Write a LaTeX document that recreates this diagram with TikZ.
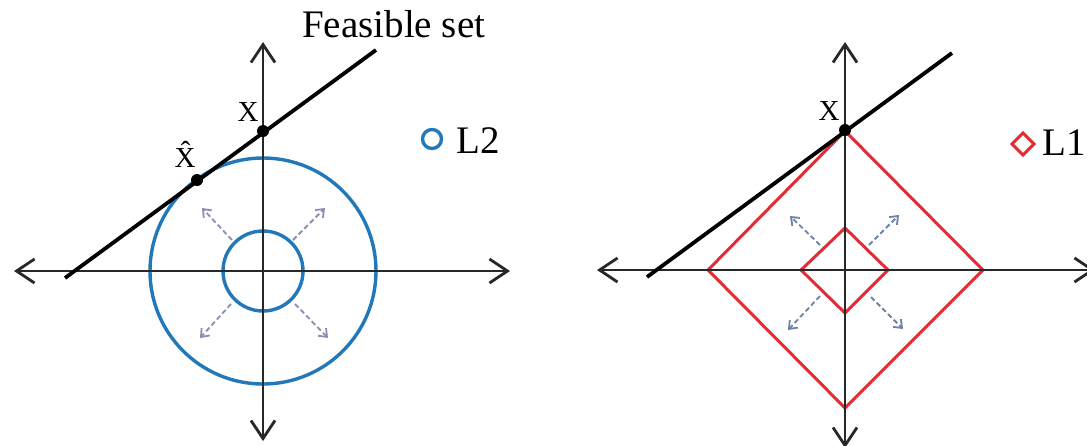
\documentclass[tikz,border=0pt]{standalone}
\usepackage{fontspec}
\setmainfont{Liberation Serif}
\usetikzlibrary{arrows.meta}
\definecolor{ltwo}{RGB}{35,120,185}
\definecolor{lone}{RGB}{225,45,55}
\definecolor{axisgray}{RGB}{40,40,40}
\definecolor{growL}{RGB}{140,140,180}
\definecolor{growR}{RGB}{110,130,165}
\tikzset{
  axisline/.style={line width=2.8pt, draw=axisgray, <->, >={Straight Barb[length=18pt,width=24pt,line width=2.8pt]}},
  feasline/.style={line width=3.8pt, draw=black},
  ringL/.style={circle, draw=ltwo, line width=3.4pt, inner sep=0pt},
  diaR/.style={draw=lone, line width=3pt, line join=miter},
  growarrow/.style={line width=1.8pt, dash pattern=on 5pt off 3pt, ->, >={Straight Barb[length=7pt,width=11pt,line width=1.8pt]}},
  dotpt/.style={circle, fill=black, inner sep=0pt, minimum size=12pt},
  lbl/.style={font=\fontsize{29}{31}\selectfont, anchor=base, inner sep=0pt},
  bigtxt/.style={font=\fontsize{39}{42}\selectfont, anchor=base west, inner sep=0pt}
}
\begin{document}
\begin{tikzpicture}[x=1pt,y=-1pt]
\useasboundingbox[fill=white] (0,0) rectangle (1087,445);
% ---------- left panel (L2) ----------
\coordinate (O1) at (263,271);
\coordinate (hL1) at (14,271);
\coordinate (hR1) at (510,271);
\coordinate (vT1) at (263,42);
\coordinate (vB1) at (263,441);
\node[ringL, minimum size=226pt] (big1) at (O1) {};
\node[ringL, minimum size=80pt] (small1) at (O1) {};
\draw[axisline] (hL1) -- (hR1);
\draw[axisline] (vB1) -- (vT1);
\coordinate (fA1) at (65,278);
\coordinate (fB1) at (376,50);
\draw[feasline] (fA1) -- (fB1);
\node[dotpt] (x1) at (263,131) {};
\node[dotpt] (xh1) at (197,180) {};
\node[lbl] (xlab1) at (248,121) {X};
\node[lbl] (xhlab1) at (185,167) {\^{X}};
\node[bigtxt] (feas) at (302,37) {Feasible set};
\node[circle, draw=ltwo, line width=3.4pt, minimum size=19pt, inner sep=0pt] (legL2) at (432,139) {};
\node[bigtxt] (legL2t) at (456,153) {L2};
% growth arrows left
\coordinate (gs1a) at (232,240); \coordinate (ge1a) at (202,208);
\coordinate (gs1b) at (293,240); \coordinate (ge1b) at (325,208);
\coordinate (gs1c) at (231,304); \coordinate (ge1c) at (200,338);
\coordinate (gs1d) at (295,304); \coordinate (ge1d) at (328,338);
\draw[growarrow, draw=growL] (gs1a) -- (ge1a);
\draw[growarrow, draw=growL] (gs1b) -- (ge1b);
\draw[growarrow, draw=growL] (gs1c) -- (ge1c);
\draw[growarrow, draw=growL] (gs1d) -- (ge1d);
% ---------- right panel (L1) ----------
\coordinate (O2) at (845,270);
\coordinate (hL2) at (597,270);
\coordinate (hR2) at (1095,270);
\coordinate (vT2) at (845,42);
\coordinate (vB2) at (845,448);
\coordinate (dT) at (845,131);
\coordinate (dR) at (983,270);
\coordinate (dB) at (845,408);
\coordinate (dL) at (708,270);
\draw[diaR] (dT) -- (dR) -- (dB) -- (dL) -- cycle;
\coordinate (sT) at (845,228);
\coordinate (sR) at (888,270);
\coordinate (sB) at (845,313);
\coordinate (sL) at (801,270);
\draw[diaR] (sT) -- (sR) -- (sB) -- (sL) -- cycle;
\draw[axisline] (hL2) -- (hR2);
\draw[axisline] (vB2) -- (vT2);
\coordinate (fA2) at (647,277);
\coordinate (fB2) at (952,53);
\draw[feasline] (fA2) -- (fB2);
\node[dotpt] (x2) at (845,130) {};
\node[lbl] (xlab2) at (829,120) {X};
\coordinate (lgT) at (1023,133);
\coordinate (lgR) at (1034,144);
\coordinate (lgB) at (1023,155);
\coordinate (lgL) at (1012,144);
\draw[diaR] (lgT) -- (lgR) -- (lgB) -- (lgL) -- cycle;
\node[bigtxt] (legL1t) at (1042,155) {L1};
% growth arrows right
\coordinate (gs2a) at (820,245); \coordinate (ge2a) at (790,216);
\coordinate (gs2b) at (869,245); \coordinate (ge2b) at (899,215);
\coordinate (gs2c) at (820,296); \coordinate (ge2c) at (788,330);
\coordinate (gs2d) at (871,297); \coordinate (ge2d) at (903,329);
\draw[growarrow, draw=growR] (gs2a) -- (ge2a);
\draw[growarrow, draw=growR] (gs2b) -- (ge2b);
\draw[growarrow, draw=growR] (gs2c) -- (ge2c);
\draw[growarrow, draw=growR] (gs2d) -- (ge2d);
\end{tikzpicture}
\end{document}
